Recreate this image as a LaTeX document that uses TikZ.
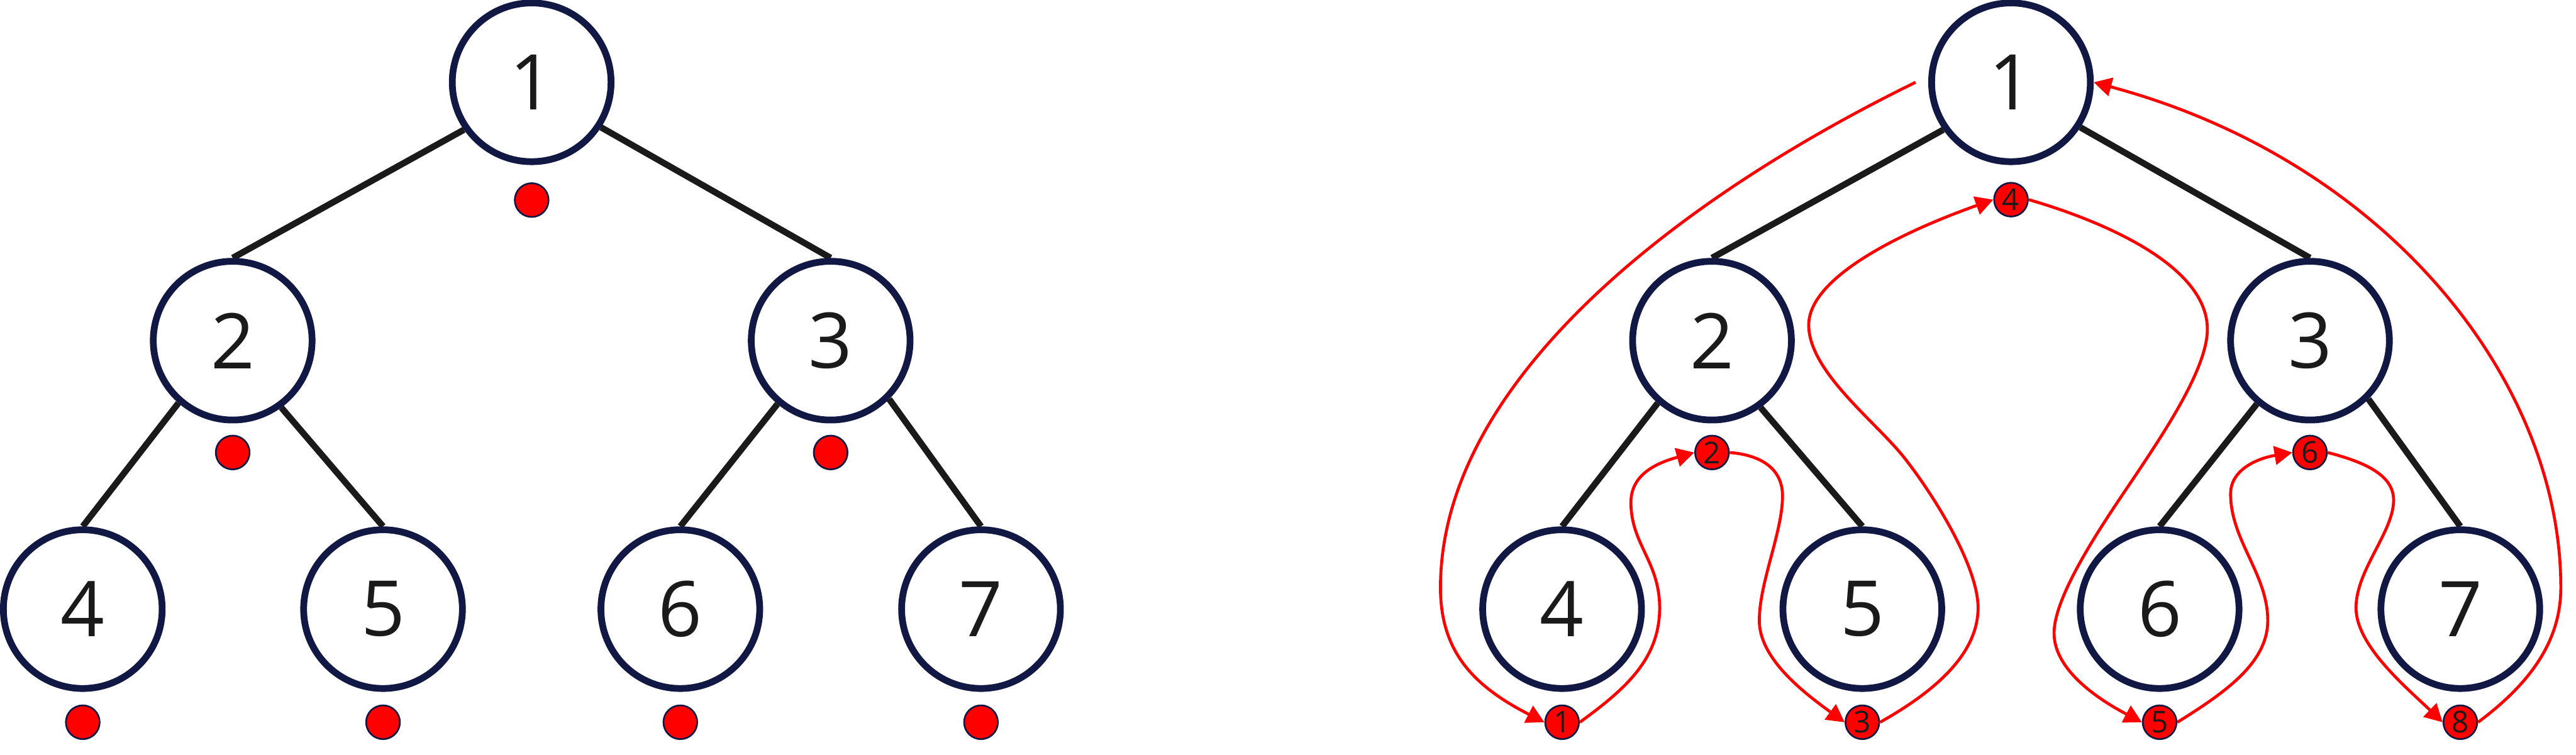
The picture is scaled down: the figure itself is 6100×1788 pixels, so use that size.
\documentclass[tikz,border=0pt]{standalone}
\usepackage{fontspec}
\setmainfont{Open Sans}
\usetikzlibrary{arrows.meta,backgrounds}
\definecolor{navy}{RGB}{17,24,68}
\definecolor{ink}{RGB}{26,26,26}
\begin{document}
\begin{tikzpicture}[x=1pt,y=-1pt,
 treenode/.style={circle, draw=navy, line width=16pt, fill=white, minimum size=376pt, inner sep=0pt, text=ink, font=\fontsize{182}{182}\selectfont},
 dotnode/.style={circle, draw=navy, line width=4pt, fill=red, minimum size=80pt, inner sep=0pt, text=ink, font=\fontsize{71}{71}\selectfont},
 treeedge/.style={draw=ink, line width=15pt},
 trail/.style={draw=red, line width=7pt, line join=round, -{Triangle[length=42pt,width=44pt]}},
]
\useasboundingbox (0,0) rectangle (6100,1788);
% ---------- left tree ----------
\node[treenode] (a1) at (1259,195) {1};
\node[treenode] (a2) at (551,807) {2};
\node[treenode] (a3) at (1967,807) {3};
\node[treenode] (a4) at (196,1443) {4};
\node[treenode] (a5) at (907,1443) {5};
\node[treenode] (a6) at (1611,1443) {6};
\node[treenode] (a7) at (2323,1443) {7};
\node[dotnode] (e1) at (1259,474) {};
\node[dotnode] (e2) at (551,1072) {};
\node[dotnode] (e3) at (1967,1072) {};
\node[dotnode] (e4) at (196,1711) {};
\node[dotnode] (e5) at (907,1711) {};
\node[dotnode] (e6) at (1611,1711) {};
\node[dotnode] (e7) at (2323,1711) {};
% ---------- right tree ----------
\node[treenode] (b1) at (4762,195) {1};
\node[treenode] (b2) at (4054,807) {2};
\node[treenode] (b3) at (5470,807) {3};
\node[treenode] (b4) at (3699,1443) {4};
\node[treenode] (b5) at (4410,1443) {5};
\node[treenode] (b6) at (5114,1443) {6};
\node[treenode] (b7) at (5826,1443) {7};
\coordinate (s0) at (4536,195);
% ---------- background: page and tree edges ----------
\begin{scope}[on background layer]
\fill[white] (0,0) rectangle (6100,1788);
\foreach \t in {a,b}{
 \draw[treeedge] (\t1.215) -- (\t2.north);
 \draw[treeedge] (\t1.327) -- (\t3.north);
 \draw[treeedge] (\t2.229) -- (\t4.north);
 \draw[treeedge] (\t2.306) -- (\t5.north);
 \draw[treeedge] (\t3.230) -- (\t6.north);
 \draw[treeedge] (\t3.315) -- (\t7.north);
}
\end{scope}
% ---------- traversal dots ----------
\node[dotnode] (c4) at (4762,473) {4};
\node[dotnode] (c2) at (4054,1072) {2};
\node[dotnode] (c6) at (5470,1072) {6};
\node[dotnode] (c1) at (3699,1711) {1};
\node[dotnode] (c3) at (4410,1711) {3};
\node[dotnode] (c5) at (5114,1711) {5};
\node[dotnode] (c8) at (5826,1711) {8};
% ---------- traversal curves ----------
\draw[trail] (s0) .. controls (3996,459) and (3411,892) .. (3411,1392)
  .. controls (3411,1542) and (3487,1624) .. (c1.west);
\draw[trail] (c1.east) .. controls (3851,1631) and (3930,1560) .. (3930,1440)
  .. controls (3930,1330) and (3862,1290) .. (3862,1190)
  .. controls (3862,1120) and (3930,1095) .. (c2.west);
\draw[trail] (c2.east) .. controls (4170,1078) and (4221,1110) .. (4221,1175)
  .. controls (4221,1260) and (4166,1380) .. (4166,1470)
  .. controls (4166,1560) and (4270,1640) .. (c3.west);
\draw[trail] (c3.east) .. controls (4560,1650) and (4684,1560) .. (4684,1440)
  .. controls (4684,1340) and (4577,1170) .. (4509,1084)
  .. controls (4441,998) and (4283,880) .. (4283,770)
  .. controls (4283,650) and (4530,540) .. (c4.west);
\draw[trail] (c4.east) .. controls (4950,515) and (5227,620) .. (5227,780)
  .. controls (5227,870) and (5128,1019) .. (5067,1111)
  .. controls (5006,1203) and (4864,1400) .. (4864,1500)
  .. controls (4864,1590) and (4975,1660) .. (c5.west);
\draw[trail] (c5.east) .. controls (5270,1640) and (5370,1570) .. (5370,1470)
  .. controls (5370,1360) and (5282,1280) .. (5282,1170)
  .. controls (5282,1110) and (5350,1085) .. (c6.west);
\draw[trail] (c6.east) .. controls (5600,1095) and (5668,1125) .. (5668,1185)
  .. controls (5668,1260) and (5579,1350) .. (5579,1440)
  .. controls (5579,1530) and (5700,1630) .. (c8.west);
\draw[trail] (c8.east) .. controls (5990,1620) and (6064,1520) .. (6064,1392)
  .. controls (6064,900) and (5650,380) .. (b1.east);
\end{tikzpicture}
\end{document}
